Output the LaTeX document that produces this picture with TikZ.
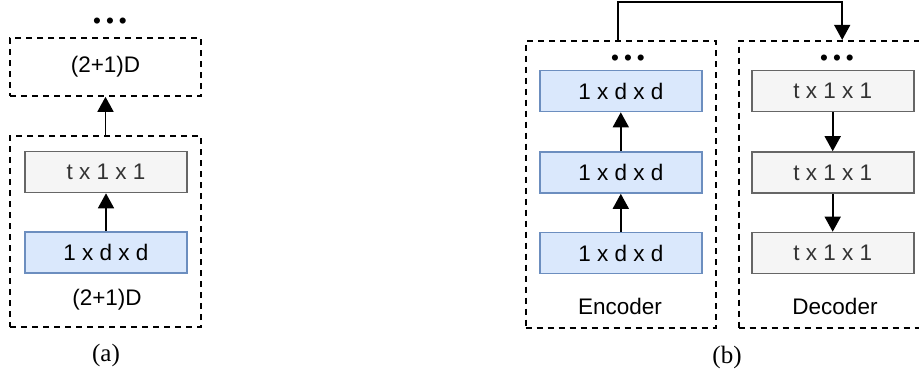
\documentclass[tikz,border=0pt]{standalone}
\usepackage{fontspec}
\setmainfont{Liberation Sans}
\newfontfamily\capfont{Liberation Serif}
\usetikzlibrary{arrows.meta}
\definecolor{spatFill}{HTML}{DAE8FC}
\definecolor{spatLine}{HTML}{6C8EBF}
\definecolor{tempFill}{HTML}{F5F5F5}
\definecolor{tempLine}{HTML}{666666}
\definecolor{tempText}{HTML}{333333}
\tikzset{
  spat/.style={draw=spatLine, fill=spatFill, line width=1.6pt, minimum width=162pt, minimum height=41pt, inner sep=0pt},
  temp/.style={draw=tempLine, fill=tempFill, text=tempText, line width=1.6pt, minimum width=162pt, minimum height=41pt, inner sep=0pt},
  group/.style={draw, line width=1.6pt, dash pattern=on 6pt off 5pt, inner sep=0pt},
  arr/.style={line width=1.6pt, -{Triangle[length=15pt,width=16pt]}},
}
\begin{document}
\begin{tikzpicture}[x=1pt, y=-1pt, font=\fontsize{22.5}{27}\selectfont]
\useasboundingbox (0,0) rectangle (919,375);
% (a)
\node (dotsA) at (110,23) {•\hspace{5pt}•\hspace{5pt}•};
\node[group, minimum width=191pt, minimum height=58pt] (topA) at (105.5,67) {(2+1)D};
\node[group, minimum width=191pt, minimum height=191pt] (outA) at (105.5,231.5) {};
\node[temp] (tA) at (106,172) {t x 1 x 1};
\node[spat] (dA) at (106,252.5) {1 x d x d};
\node (labA) at (107,300) {(2+1)D};
\node (capA) at (106,355) {\capfont\fontsize{25}{30}\selectfont (a)};
\draw[arr] (dA) -- (tA);
\draw[arr] (outA) -- (topA);
% (b)
\node[group, minimum width=190pt, minimum height=287pt] (enc) at (620.7,184.2) {};
\node[group, minimum width=189pt, minimum height=287pt] (dec) at (833.2,184.2) {};
\node (dotsE) at (628,60) {•\hspace{5pt}•\hspace{5pt}•};
\node (dotsD) at (837,60) {•\hspace{5pt}•\hspace{5pt}•};
\node[spat] (e1) at (620.8,91) {1 x d x d};
\node[spat] (e2) at (620.8,172.5) {1 x d x d};
\node[spat] (e3) at (620.8,253) {1 x d x d};
\node[temp] (d1) at (832.7,91) {t x 1 x 1};
\node[temp] (d2) at (832.7,172.5) {t x 1 x 1};
\node[temp] (d3) at (832.7,253) {t x 1 x 1};
\node (labE) at (620,306) {Encoder};
\node (labD) at (835,306) {Decoder};
\node (capB) at (727,357) {\capfont\fontsize{25}{30}\selectfont (b)};
\draw[arr] (e3) -- (e2);
\draw[arr] (e2) -- (e1);
\draw[arr] (d1) -- (d2);
\draw[arr] (d2) -- (d3);
\draw[arr] ([xshift=-3pt]enc.north) -- ++(0,-38) -| ([xshift=9pt]dec.north);
\end{tikzpicture}
\end{document}
